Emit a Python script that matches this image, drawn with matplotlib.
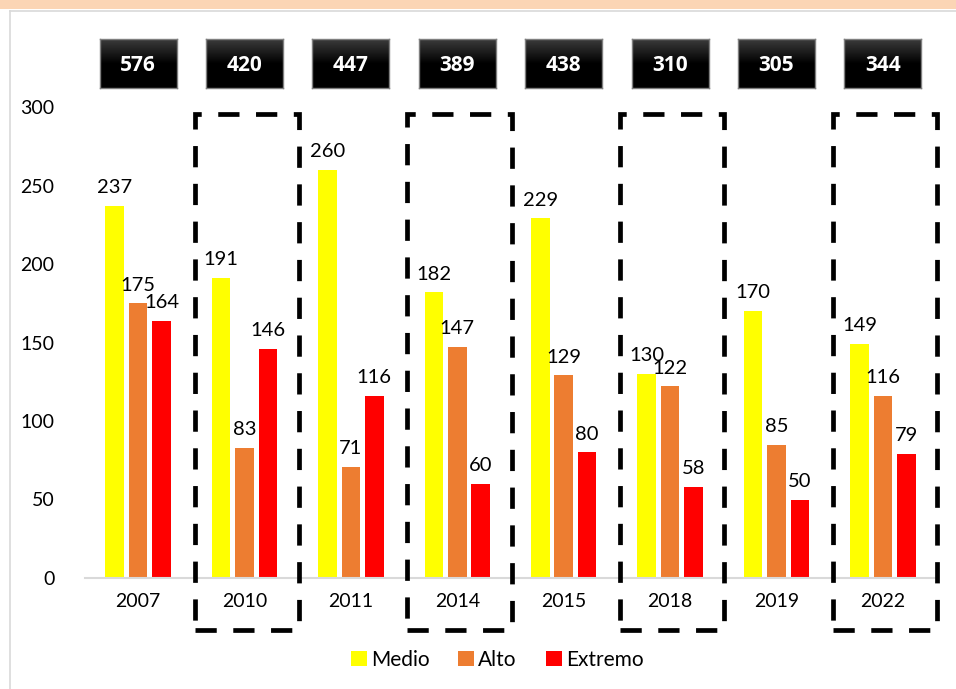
import matplotlib
matplotlib.use("Agg")
import matplotlib.pyplot as plt
import numpy as np
from matplotlib.patches import Rectangle
from matplotlib.transforms import blended_transform_factory
from matplotlib.colors import LinearSegmentedColormap

years = ["2007", "2010", "2011", "2014", "2015", "2018", "2019", "2022"]
medio = [237, 191, 260, 182, 229, 130, 170, 149]
alto = [175, 83, 71, 147, 129, 122, 85, 116]
extremo = [164, 146, 116, 60, 80, 58, 50, 79]
totals = [576, 420, 447, 389, 438, 310, 305, 344]
highlighted = ["2010", "2014", "2018", "2022"]
yticks = [0, 50, 100, 150, 200, 250, 300]

W, H = 956, 689
fig = plt.figure(figsize=(W / 100, H / 100), dpi=100)
fig.patch.set_facecolor("white")

# top peach band and light frame
fig.patches.append(Rectangle((0, 1 - 9 / H), 1, 9 / H, transform=fig.transFigure,
                             facecolor="#FBD5B5", edgecolor="none", zorder=0))
fig.add_artist(plt.Line2D([10 / W, 1], [1 - 11 / H, 1 - 11 / H], transform=fig.transFigure,
                          color="#D9D9D9", lw=1.2))
fig.add_artist(plt.Line2D([10 / W, 10 / W], [0, 1 - 11 / H], transform=fig.transFigure,
                          color="#D9D9D9", lw=1.2))

left, right = 85 / W, 936 / W
bottom, top = (H - 578) / H, (H - 107) / H
ax = fig.add_axes([left, bottom, right - left, top - bottom])
ax.set_facecolor("none")

font = "Lato"
x = np.arange(len(years))
bw = 0.175
off = 0.22
colors = ["#FFFF00", "#ED7D31", "#FF0000"]
names = ["Medio", "Alto", "Extremo"]
for k, (vals, c, n) in enumerate(zip([medio, alto, extremo], colors, names)):
    xs = x + (k - 1) * off
    ax.bar(xs, vals, width=bw, color=c, label=n, zorder=2)
    for xi, v in zip(xs, vals):
        ax.annotate(str(v), (xi, v), xytext=(0, 7), textcoords="offset points",
                    ha="center", va="bottom", fontsize=14.5, family=font, color="black")

ax.set_xlim(-0.5, len(years) - 0.5)
ax.set_ylim(0, 300)
ax.set_yticks(yticks)
ax.set_yticklabels([str(t) for t in yticks], family=font, fontsize=14)
ax.set_xticks(x)
ax.set_xticklabels(years, family=font, fontsize=14)
ax.tick_params(axis="both", length=0)
ax.tick_params(axis="y", pad=22)
ax.tick_params(axis="x", pad=11)
for s in ["top", "right", "left"]:
    ax.spines[s].set_visible(False)
ax.spines["bottom"].set_color("#D9D9D9")
ax.spines["bottom"].set_linewidth(1.5)

# dashed rectangles around highlighted years
trans = blended_transform_factory(ax.transData, fig.transFigure)
for i, y in enumerate(years):
    if y in highlighted:
        y0 = (H - 630) / H
        y1 = (H - 114) / H
        rect = Rectangle((i - 0.5 + 0.03, y0), 0.98, y1 - y0, transform=trans,
                         fill=False, edgecolor="black", lw=3.4, linestyle=(0, (4.5, 3.5)),
                         clip_on=False, zorder=3)
        fig.add_artist(rect)

# black total boxes with gradient
grad = np.linspace(0, 1, 50).reshape(-1, 1)
cmap = LinearSegmentedColormap.from_list("g", ["#000000", "#000000", "#3a3a3a"])
for i, t in enumerate(totals):
    cx = (left + (i + 0.5) / len(years) * (right - left))
    bwid, bhei = 77 / W, 49 / H
    bax = fig.add_axes([cx - bwid / 2, 1 - 88 / H, bwid, bhei])
    bax.imshow(grad, aspect="auto", cmap=cmap, origin="lower", extent=(0, 1, 0, 1))
    bax.set_xticks([])
    bax.set_yticks([])
    for s in bax.spines.values():
        s.set_color("#7f7f7f")
        s.set_linewidth(1)
    bax.text(0.5, 0.46, str(t), ha="center", va="center", color="white",
             fontsize=15, fontweight="bold", family="Open Sans", transform=bax.transAxes)

leg = fig.legend(loc="center", bbox_to_anchor=(0.52, 1 - 660 / H), ncol=3, frameon=False,
                 prop={"family": font, "size": 15}, handlelength=0.75, handleheight=0.75,
                 handletextpad=0.2, columnspacing=1.4)

fig.savefig("out.png", dpi=100, facecolor="white")
